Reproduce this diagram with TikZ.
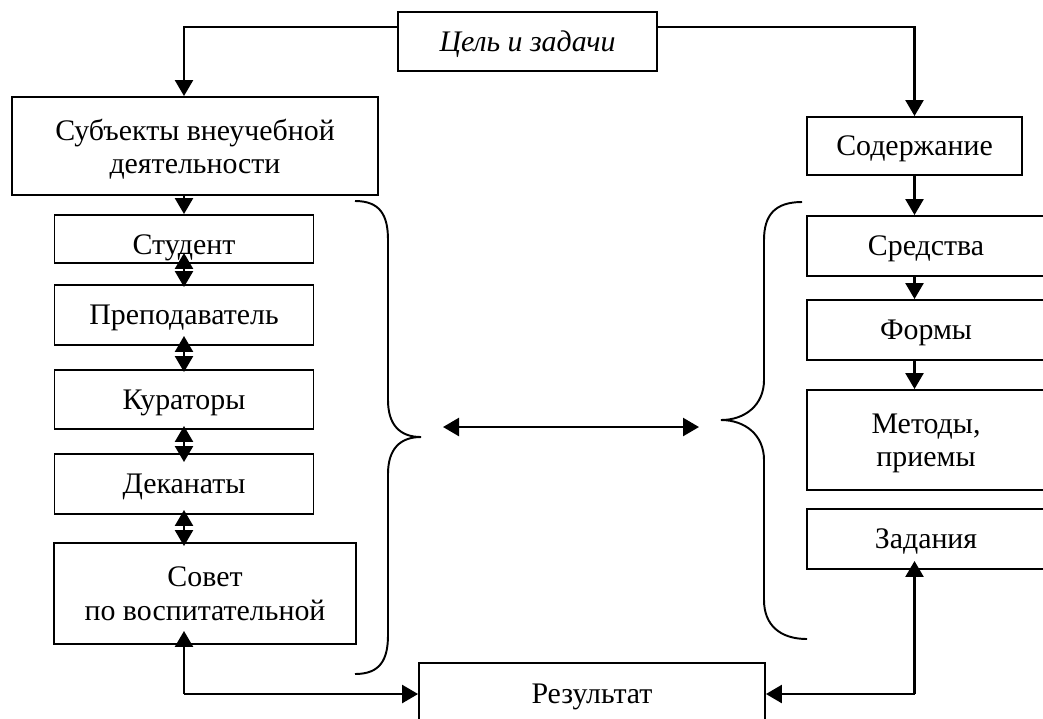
\documentclass[tikz,border=0pt]{standalone}
\usepackage{fontspec}
\setmainfont{Liberation Serif}
\usetikzlibrary{arrows.meta}

\begin{document}
\begin{tikzpicture}[x=0.02cm, y=-0.02cm,
    block/.style={draw, line width=1.1pt, inner sep=0pt, align=center, text depth=0pt, font=\fontsize{17}{19}\selectfont},
    arr/.style={line width=1.4pt, -{Triangle[length=0.32cm, width=0.36cm]}},
    twoway/.style={line width=1.4pt, {Triangle[length=0.32cm, width=0.36cm]}-{Triangle[length=0.32cm, width=0.36cm]}},
    brace/.style={line width=1.1pt}]
    \useasboundingbox (0,0) rectangle (1043,718);
    \clip (0,0) rectangle (1043,718);

    % top
    \node[block, minimum width=5.18cm, minimum height=1.18cm, font=\fontsize{17}{19}\selectfont\itshape] (goal) at (527.5,41.5) {Цель и задачи};

    % left column
    \node[block, minimum width=7.32cm, minimum height=1.96cm] (subj) at (195,146) {Субъекты внеучебной\\деятельности};
    \node[block, minimum width=5.18cm, minimum height=0.96cm] (student) at (184,239) {\raisebox{-0.12cm}[\height][\depth]{Студент}};
    \node[block, minimum width=5.18cm, minimum height=1.2cm] (teacher) at (184,315) {Преподаватель};
    \node[block, minimum width=5.18cm, minimum height=1.18cm] (curators) at (184,399.5) {Кураторы};
    \node[block, minimum width=5.18cm, minimum height=1.2cm] (deans) at (184,484) {Деканаты};
    \node[block, minimum width=6.04cm, minimum height=2.02cm] (council) at (205,593.5) {Совет\\по воспитательной};

    % right column
    \node[block, minimum width=4.3cm, minimum height=1.16cm] (content) at (914.5,146) {Содержание};
    \node[block, minimum width=4.76cm, minimum height=1.2cm] (means) at (926,246) {Средства};
    \node[block, minimum width=4.76cm, minimum height=1.2cm] (forms) at (926,330) {Формы};
    \node[block, minimum width=4.76cm, minimum height=2cm] (methods) at (926,440) {Методы,\\приемы};
    \node[block, minimum width=4.76cm, minimum height=1.2cm] (tasks) at (926,539) {Задания};

    % bottom
    \node[block, minimum width=6.92cm, minimum height=1.24cm] (result) at (592,694) {Результат};

    \coordinate (lcorner) at (student.south |- result.west);
    \coordinate (rcorner) at (content.south |- result.east);
    \coordinate (linkL) at (443,427);
    \coordinate (linkR) at (699,427);

    \draw[arr] ([yshift=0.29cm]goal.west) -| (subj.north -| student.north);
    \draw[arr] ([yshift=0.29cm]goal.east) -| (content.north);
    \draw[arr] (subj.south -| student.north) -- (student.north);

    \draw[twoway, shorten <=-0.22cm, shorten >=-0.06cm] (student.south) -- (teacher.north);
    \draw[twoway, shorten <=-0.2cm, shorten >=-0.06cm] (teacher.south) -- (curators.north);
    \draw[twoway, shorten <=-0.08cm, shorten >=-0.18cm] (curators.south) -- (deans.north);
    \draw[twoway, shorten <=-0.1cm, shorten >=-0.08cm] (deans.south) -- (deans.south |- council.north);

    \draw[arr] (content.south) -- (content.south |- means.north);
    \draw[arr] (content.south |- means.south) -- (content.south |- forms.north);
    \draw[arr] (content.south |- forms.south) -- (content.south |- methods.north);

    \draw[arr, shorten >=-0.28cm] (lcorner) -- (lcorner |- council.south);
    \draw[arr] (lcorner) -- (result.west);
    \draw[arr, shorten >=-0.18cm] (rcorner) -- (rcorner |- tasks.south);
    \draw[arr] (rcorner) -- (result.east);

    % braces
    \draw[brace] (355,201) .. controls (380,201) and (388,215) .. (388,240) -- (388,400)
        .. controls (388,425) and (400,437) .. (421,437)
        .. controls (400,437) and (388,449) .. (388,474) -- (388,635)
        .. controls (388,660) and (380,674) .. (355,674);
    \draw[brace] (802,202) .. controls (775,202) and (764,215) .. (764,240) -- (764,380)
        .. controls (764,405) and (745,420) .. (721,420)
        .. controls (745,420) and (764,435) .. (764,460) -- (764,600)
        .. controls (764,625) and (780,639) .. (807,639);

    \draw[twoway] (linkL) -- (linkR);
\end{tikzpicture}
\end{document}
